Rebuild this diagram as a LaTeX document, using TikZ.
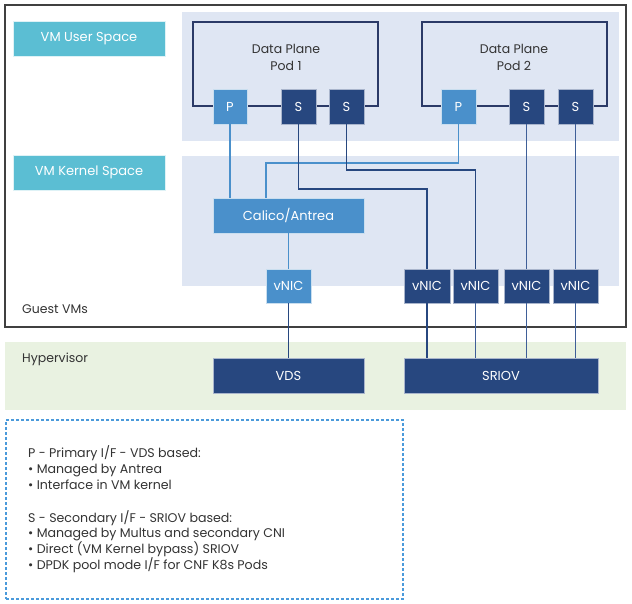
\documentclass[tikz,border=0pt]{standalone}
\usepackage{fontspec}
\setmainfont{Poppins}
\definecolor{teal}{HTML}{5BBED3}
\definecolor{band}{HTML}{DFE6F3}
\definecolor{lblue}{HTML}{4A90CB}
\definecolor{navy}{HTML}{27477F}
\definecolor{podline}{HTML}{2B3A67}
\definecolor{sline}{HTML}{3F5F98}
\definecolor{green}{HTML}{E9F2E1}
\definecolor{dash}{HTML}{4A9ADB}
\definecolor{txt}{HTML}{333333}
\tikzset{
  area/.style={fill=band, draw=none, inner sep=0pt},
  lbl/.style={fill=teal, draw=white!80!teal, line width=0.6pt, text=white, font=\fontsize{13}{15}\selectfont, inner sep=0pt},
  pbox/.style={fill=lblue, draw=white!70!lblue, line width=0.6pt, text=white, font=\fontsize{13}{15}\selectfont, inner sep=0pt},
  sbox/.style={fill=navy, draw=white!60!navy, line width=0.6pt, text=white, font=\fontsize{13}{15}\selectfont, inner sep=0pt},
  pod/.style={draw=podline, line width=1.3pt, fill=none, inner sep=0pt},
  plain/.style={text=txt, font=\fontsize{12.5}{16}\selectfont, inner sep=0pt},
  legend/.style={text=txt, font=\fontsize{12.6}{16}\selectfont, inner sep=0pt, anchor=base west},
  lline/.style={draw=lblue, line width=1.2pt},
  sl/.style={draw=sline, line width=1.2pt},
}
\begin{document}
\begin{tikzpicture}[x=1pt,y=-1pt]
\useasboundingbox (0,0) rectangle (632,604);
% bands
\node[area, minimum width=437, minimum height=129] (userband) at (400.5,76.5) {};
\node[area, minimum width=437, minimum height=130] (kernband) at (400.5,221) {};
\node[fill=green, inner sep=0pt, minimum width=621, minimum height=68] (hyperband) at (315.5,376) {};
% guest VM border
\node[draw=black!75, line width=1.4pt, inner sep=0pt, minimum width=621, minimum height=322] (guest) at (315.5,166) {};
% labels
\node[lbl, minimum width=152, minimum height=35] (uslbl) at (89,38.5) {VM User Space};
\node[lbl, minimum width=152, minimum height=35] (kslbl) at (89,172.5) {VM Kernel Space};
\node[plain, anchor=base west] (gvm) at (22,313) {Guest VMs};
\node[plain, anchor=base west] (hyp) at (22,362) {Hypervisor};
% pods
\node[pod, minimum width=185, minimum height=84] (pod1) at (285.5,64) {};
\node[pod, minimum width=185, minimum height=84] (pod2) at (514.5,64) {};
\node[plain, align=center, font=\fontsize{12.5}{17}\selectfont] (pod1t) at (286,57.5) {Data Plane\\Pod 1};
\node[plain, align=center, font=\fontsize{12.5}{17}\selectfont] (pod2t) at (514,57.5) {Data Plane\\Pod 2};
\node[pbox, minimum width=34, minimum height=35] (p1) at (230,106.5) {P};
\node[sbox, minimum width=35, minimum height=35] (s11) at (298.5,106.5) {S};
\node[sbox, minimum width=35, minimum height=35] (s12) at (346.5,106.5) {S};
\node[pbox, minimum width=35, minimum height=35] (p2) at (458.5,106.5) {P};
\node[sbox, minimum width=35, minimum height=35] (s21) at (526.5,106.5) {S};
\node[sbox, minimum width=35, minimum height=35] (s22) at (575.5,106.5) {S};
% kernel
\node[pbox, minimum width=151, minimum height=35] (calico) at (288.5,215.5) {Calico/Antrea};
\node[pbox, minimum width=45, minimum height=34] (vp) at (288.5,286) {vNIC};
\node[sbox, minimum width=46, minimum height=34] (v1) at (427,286) {vNIC};
\node[sbox, minimum width=45, minimum height=34] (v2) at (475.5,286) {vNIC};
\node[sbox, minimum width=45, minimum height=34] (v3) at (526.5,286) {vNIC};
\node[sbox, minimum width=45, minimum height=34] (v4) at (575.5,286) {vNIC};
% hypervisor
\node[sbox, minimum width=151, minimum height=35] (vds) at (288.5,375.5) {VDS};
\node[sbox, minimum width=194, minimum height=35] (sriov) at (501,375.5) {SRIOV};
% connectors
\coordinate (j1) at (266,163);
\coordinate (j2) at (298.5,189);
\coordinate (j3) at (346.5,170);
\draw[lline] (p1.south) -- (p1.south |- calico.north);
\draw[lline] (p2.south) |- (j1) -- (j1 |- calico.north);
\draw[lline] (calico.south) -- (vp.north);
\draw[sl, draw=navy] (s11.south) -- (j2) -| (v1.north);
\draw[sl, draw=navy] (s12.south) -- (j3) -| (v2.north);
\draw[sl] (s21.south) -- (v3.north);
\draw[sl] (s22.south) -- (v4.north);
\draw[sl, draw=navy] (vp.south) -- (vp.south |- vds.north);
\draw[sl, draw=navy] (v1.south) -- (v1.south |- sriov.north);
\draw[sl] (v2.south) -- (v2.south |- sriov.north);
\draw[sl] (v3.south) -- (v3.south |- sriov.north);
\draw[sl] (v4.south) -- (v4.south |- sriov.north);
% legend
\node[draw=dash, dashed, dash pattern=on 3pt off 2pt, line width=1.1pt, inner sep=0pt, minimum width=397, minimum height=179] (legbox) at (204.5,509.5) {};
\node[legend] (la) at (28,457.5) {P - Primary I/F - VDS based:};
\node[legend] (lb) at (28,473.3) {\textbullet{} Managed by Antrea};
\node[legend] (lc) at (28,489) {\textbullet{} Interface in VM kernel};
\node[legend] (ld) at (28,522) {S - Secondary I/F - SRIOV based:};
\node[legend] (le) at (28,537.8) {\textbullet{} Managed by Multus and secondary CNI};
\node[legend] (lf) at (28,553.5) {\textbullet{} Direct (VM Kernel bypass) SRIOV};
\node[legend] (lg) at (28,569.2) {\textbullet{} DPDK pool mode I/F for CNF K8s Pods};
\end{tikzpicture}
\end{document}
